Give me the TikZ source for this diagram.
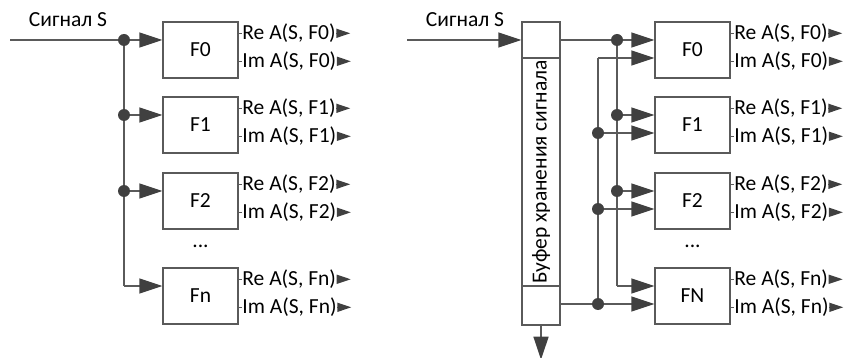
\documentclass[tikz,border=0pt]{standalone}
\usepackage{fontspec}
\setmainfont{Carlito}
\usepackage{tikz}
\usetikzlibrary{arrows.meta}
\usepackage{xcolor}
\definecolor{wiregray}{HTML}{5A5A5A}
\definecolor{tipgray}{HTML}{404040}

\begin{document}
\begin{tikzpicture}[x=1pt, y=-1pt,
    every node/.style={font=\fontsize{21.5}{25}\selectfont},
    wire/.style={draw=wiregray, line width=1.4pt},
    bigtip/.style={-{Triangle[length=23pt, width=15pt, color=tipgray]}},
    smalltip/.style={-{Triangle[length=14pt, width=9pt, color=tipgray]}},
    filt/.style={rectangle, draw=wiregray, line width=1.4pt, minimum width=75pt, minimum height=56pt, inner sep=0pt},
    outlbl/.style={anchor=west, inner sep=0pt},
    dot/.style={fill=tipgray}]
    \useasboundingbox (0,0) rectangle (846,358);

    % Left scheme: filters
    \node[filt] (fl0) at (200.5,50) {F0};
    \node[filt] (fl1) at (200.5,125) {F1};
    \node[filt] (fl2) at (200.5,201) {F2};
    \node[filt] (fln) at (200.5,296) {Fn};
    \node (dotsL) at (200.5,246) {...};
    \node (sigL) at (68,20) {Сигнал S};

    % Left scheme: input and branches
    \coordinate (inL) at (10,40);
    \coordinate (jL0) at (124,40);
    \coordinate (jL1) at (124,115);
    \coordinate (jL2) at (124,191);
    \coordinate (jL3) at (124,286);
    \draw[wire] (inL) -- (jL0);
    \draw[wire] (jL0) -- (jL3);
    \draw[wire, bigtip] (jL0) -- (jL0 -| fl0.west);
    \draw[wire, bigtip] (jL1) -- (jL1 -| fl1.west);
    \draw[wire, bigtip] (jL2) -- (jL2 -| fl2.west);
    \draw[wire, bigtip] (jL3) -- (jL3 -| fln.west);
    \foreach \i in {0,1,2} {
        \fill[dot] (jL\i) circle (6pt);
    }

    % Right scheme: buffer
    \node[rectangle, draw=wiregray, line width=1.4pt, minimum width=38pt, minimum height=303pt, inner sep=0pt] (buf) at (541,173.5) {};
    \draw[wire] (buf.west |- 0,58) -- (buf.east |- 0,58);
    \draw[wire] (buf.west |- 0,286) -- (buf.east |- 0,286);
    \node[rotate=90] (buftxt) at (541,172) {Буфер хранения сигнала};
    \node (sigR) at (465,20) {Сигнал S};

    % Right scheme: filters
    \node[filt] (fr0) at (692.5,50) {F0};
    \node[filt] (fr1) at (692.5,125) {F1};
    \node[filt] (fr2) at (692.5,201) {F2};
    \node[filt] (frn) at (692.5,296) {FN};
    \node (dotsR) at (692.5,246) {...};

    % Right scheme: connections
    \coordinate (inR) at (407,40);
    \coordinate (jA0) at (617,40);
    \coordinate (jA1) at (617,115);
    \coordinate (jA2) at (617,191);
    \coordinate (jA3) at (617,286);
    \coordinate (jB0) at (598,58);
    \coordinate (jB1) at (598,133);
    \coordinate (jB2) at (598,209);
    \coordinate (jB3) at (598,304);
    \draw[wire, bigtip] (inR) -- (inR -| buf.west);
    \draw[wire] (buf.east |- jA0) -- (jA0);
    \draw[wire] (jA0) -- (jA3);
    \draw[wire] (buf.east |- jB3) -- (jB3);
    \draw[wire] (jB3) -- (jB0);
    \draw[wire, bigtip] (jA0) -- (jA0 -| fr0.west);
    \draw[wire, bigtip] (jA1) -- (jA1 -| fr1.west);
    \draw[wire, bigtip] (jA2) -- (jA2 -| fr2.west);
    \draw[wire, bigtip] (jA3) -- (jA3 -| frn.west);
    \draw[wire, bigtip] (jB0) -- (jB0 -| fr0.west);
    \draw[wire, bigtip] (jB1) -- (jB1 -| fr1.west);
    \draw[wire, bigtip] (jB2) -- (jB2 -| fr2.west);
    \draw[wire, bigtip] (jB3) -- (jB3 -| frn.west);
    \foreach \i in {0,1,2} {
        \fill[dot] (jA\i) circle (6pt);
    }
    \foreach \i in {1,2,3} {
        \fill[dot] (jB\i) circle (6pt);
    }
    \draw[wire, bigtip] (buf.south) -- ++(0,34);

    % Outputs
    \foreach \b/\s in {fl0/F0, fl1/F1, fl2/F2, fln/Fn, fr0/F0, fr1/F1, fr2/F2, frn/Fn} {
        \draw[wire] ([yshift=-12pt]\b.north east) -- ++(3,0) node[outlbl] (re\b) {Re A(S, \s)};
        \draw[wire] ([yshift=-40pt]\b.north east) -- ++(3,0) node[outlbl] (im\b) {Im A(S, \s)};
        \draw[wire, smalltip] (re\b.east) -- ++(14,0);
        \draw[wire, smalltip] (im\b.east) -- ++(14,0);
    }
\end{tikzpicture}
\end{document}
